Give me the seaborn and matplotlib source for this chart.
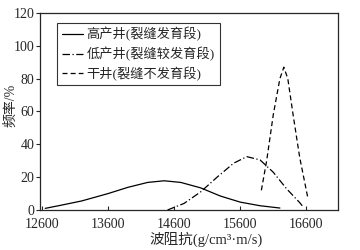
import pandas as pd
import seaborn as sns
import matplotlib.pyplot as plt

sns.set_style('ticks')
plt.rcParams['font.family'] = ['Liberation Serif', 'Noto Sans CJK SC']
plt.rcParams['axes.unicode_minus'] = False

# 高产井(裂缝发育段)
high_x = [12650, 12900, 13200, 13600, 13900, 14200, 14450, 14700, 15000, 15300, 15600, 15900, 16200]
high_y = [1.0, 3.0, 5.5, 10.0, 13.8, 16.8, 17.8, 16.8, 13.5, 8.5, 4.8, 2.6, 1.2]
# 低产井(裂缝较发育段)
low_x = [14500, 14750, 15000, 15250, 15500, 15700, 15900, 16100, 16300, 16500, 16550]
low_y = [0.0, 4.0, 11.0, 20.0, 28.5, 32.5, 30.5, 23.0, 13.0, 4.5, 2.0]
# 干井(裂缝不发育段)
dry_x = [15920, 16000, 16100, 16200, 16260, 16320, 16400, 16500, 16620]
dry_y = [12.0, 30.0, 58.0, 80.0, 87.0, 80.0, 58.0, 32.0, 8.0]

labels = ['高产井(裂缝发育段)', '低产井(裂缝较发育段)', '干井(裂缝不发育段)']
df = pd.concat([
    pd.DataFrame({'x': high_x, 'y': high_y, 'well': labels[0]}),
    pd.DataFrame({'x': low_x, 'y': low_y, 'well': labels[1]}),
    pd.DataFrame({'x': dry_x, 'y': dry_y, 'well': labels[2]}),
])

fig = plt.figure(figsize=(3.6, 2.5), dpi=100)
ax = fig.add_axes([0.111, 0.16, 0.828, 0.788])
styles = {labels[0]: '-', labels[1]: (0, (6, 2, 1, 2)), labels[2]: (0, (4, 2.5))}
for name in labels:
    sub = df[df['well'] == name]
    sns.lineplot(data=sub, x='x', y='y', ax=ax, color='black', lw=0.9,
                 linestyle=styles[name], label=name)

ax.set_xlim(12570, 17080)
ax.set_ylim(0, 120)
ax.set_xticks([12600, 13600, 14600, 15600, 16600])
ax.set_yticks([0, 20, 40, 60, 80, 100, 120])
ax.tick_params(axis='x', direction='in', length=3, labelsize=10, pad=5.5)
ax.tick_params(axis='y', direction='out', length=3, labelsize=10, pad=1)
for s in ax.spines.values():
    s.set_linewidth(0.9)
ax.set_xlabel('波阻抗(g/cm³·m/s)', fontsize=10.5, labelpad=1)
ax.set_ylabel('频率/%', fontsize=10, labelpad=1)
ax.xaxis.set_label_coords(0.557, -0.11)
ax.yaxis.set_label_coords(-0.075, 0.53)
leg = ax.legend(loc='upper left', fontsize=9.5, frameon=True, fancybox=False,
                edgecolor='black', handlelength=1.6, handletextpad=0.3,
                borderpad=0.35, labelspacing=0.4, borderaxespad=0,
                bbox_to_anchor=(0.057, 0.95))
leg.get_frame().set_linewidth(0.8)
fig.savefig('out.png', dpi=100)
